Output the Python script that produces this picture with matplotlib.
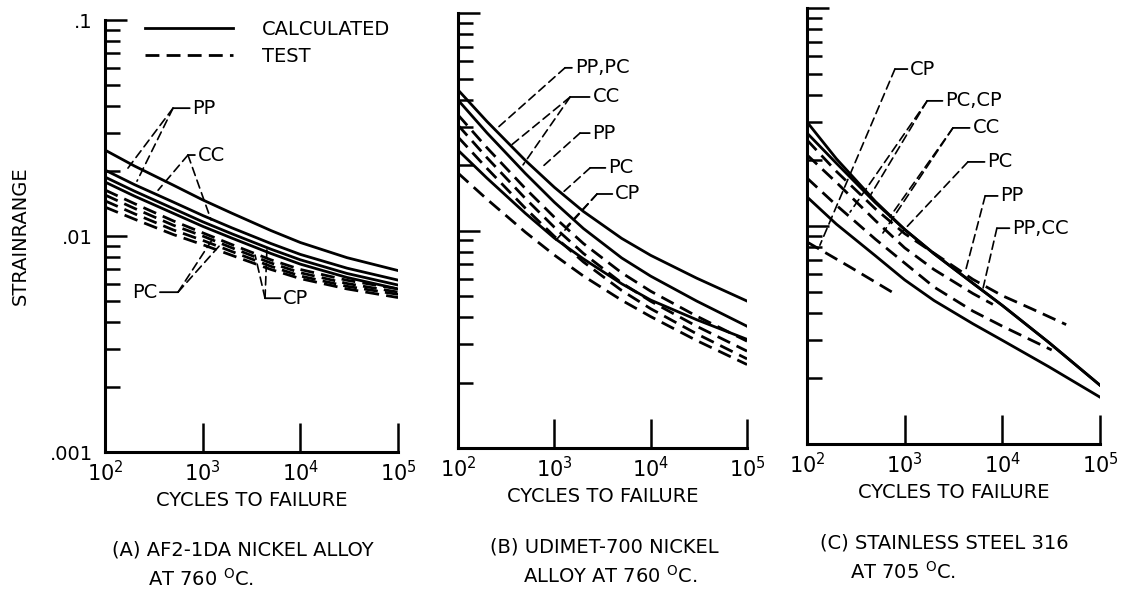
import numpy as np
import matplotlib
matplotlib.use("Agg")
import matplotlib.pyplot as plt
from matplotlib.lines import Line2D
from matplotlib.ticker import LogLocator, NullFormatter, NullLocator

plt.rcParams['font.family'] = ['DejaVu Sans']
plt.rcParams['font.size'] = 14

cycles = [100, 200, 500, 1000, 2000, 5000, 10000, 30000, 100000]

# (A) AF2-1DA nickel alloy, strainrange vs cycles to failure
a_calc = [[0.0250, 0.0211, 0.0172, 0.0147, 0.01274, 0.0106, 0.00933, 0.00794, 0.00692],
          [0.0202, 0.0173, 0.01436, 0.01245, 0.0109, 0.00923, 0.00822, 0.0071, 0.00625],
          [0.01875, 0.01614, 0.0134, 0.01164, 0.01023, 0.00869, 0.00776, 0.00671, 0.00593],
          [0.01778, 0.01531, 0.01274, 0.01109, 0.00977, 0.0083, 0.00741, 0.00643, 0.00569]]
a_test = [[0.01633, 0.01413, 0.01175, 0.01035, 0.00912, 0.00776, 0.0070, 0.00624, 0.00569],
          [0.01549, 0.01343, 0.01122, 0.0100, 0.00881, 0.0075, 0.00676, 0.00603, 0.0055],
          [0.01455, 0.01268, 0.01067, 0.00955, 0.00847, 0.00724, 0.00653, 0.00585, 0.00537],
          [0.01361, 0.01197, 0.01016, 0.00912, 0.00813, 0.0070, 0.00635, 0.00569, 0.00519]]

# (B) UDIMET-700
b_calc = [[0.0443, 0.0317, 0.0210, 0.0158, 0.01224, 0.0092, 0.00769, 0.00604, 0.00474],
          [0.0398, 0.0281, 0.0183, 0.01349, 0.01022, 0.00748, 0.00617, 0.00474, 0.00363],
          [0.0234, 0.0174, 0.0120, 0.00923, 0.00741, 0.00569, 0.00479, 0.00389, 0.00316]]
b_test = [[0.0340, 0.0240, 0.0156, 0.01151, 0.00872, 0.00639, 0.00526, 0.00404, 0.0031],
          [0.0305, 0.0216, 0.01404, 0.01035, 0.00785, 0.00574, 0.00473, 0.00363, 0.00279],
          [0.0269, 0.0193, 0.01266, 0.0094, 0.00717, 0.0053, 0.00437, 0.00335, 0.00257],
          [0.01837, 0.01392, 0.00983, 0.00771, 0.00618, 0.00478, 0.00402, 0.00312, 0.00242]]

# (C) stainless steel 316
c_calc = [[0.0300, 0.02034, 0.01298, 0.00964, 0.00746, 0.00546, 0.00432, 0.00292, 0.00186],
          [0.0267, 0.0194, 0.0128, 0.00964, 0.00746, 0.00546, 0.00432, 0.00292, 0.00186],
          [0.0136, 0.0102, 0.00731, 0.00566, 0.00455, 0.00356, 0.00299, 0.00226, 0.00164]]
c_test_x = [[100, 200, 500, 1000, 2000, 5000, 10000, 20000, 45000],
            [100, 200, 500, 1000, 2000, 5000, 10000, 32000],
            [100, 200, 500, 1000, 2000, 5000, 8000],
            [100, 280, 740]]
c_test_y = [[0.0248, 0.0178, 0.0120, 0.00923, 0.0075, 0.00569, 0.00479, 0.00417, 0.00353],
            [0.0166, 0.01245, 0.00871, 0.00676, 0.00525, 0.00407, 0.00347, 0.0027],
            [0.0212, 0.01585, 0.0106, 0.00794, 0.00631, 0.0049, 0.00437],
            [0.00845, 0.00646, 0.00498]]

captions = [("(A) AF2-1DA NICKEL ALLOY", "AT 760 $^{\\rm O}$C."),
            ("(B) UDIMET-700 NICKEL", "ALLOY AT 760 $^{\\rm O}$C."),
            ("(C) STAINLESS STEEL 316", "AT 705 $^{\\rm O}$C.")]

LW = 2.0
DASH = (0, (5, 2.6))


def setup(ax, ylabels):
    ax.set_xscale('log')
    ax.set_yscale('log')
    ax.set_xlim(1e2, 1e5)
    ax.set_ylim(1e-3, 1e-1)
    for s in ['top', 'right']:
        ax.spines[s].set_visible(False)
    for s in ['left', 'bottom']:
        ax.spines[s].set_linewidth(2.2)
    ax.set_xticks([1e2, 1e3, 1e4, 1e5])
    ax.xaxis.set_minor_locator(NullLocator())
    ax.yaxis.set_minor_locator(LogLocator(base=10, subs=np.arange(2, 10)))
    ax.yaxis.set_minor_formatter(NullFormatter())
    if ylabels:
        ax.set_yticks([1e-3, 1e-2, 1e-1], ['.001', '.01', '.1'])
    else:
        ax.set_yticks([1e-3, 1e-2, 1e-1], ['', '', ''])
    ax.tick_params(which='both', direction='in', width=1.8,
                   top=False, right=False)
    ax.tick_params(axis='x', which='major', length=21, pad=6, labelsize=15)
    ax.tick_params(axis='y', which='major', length=16, pad=9, labelsize=14)
    ax.tick_params(axis='y', which='minor', length=11)
    ax.set_xlabel("CYCLES TO FAILURE", labelpad=4)


def callout(ax, text, corner, targets, dx):
    ha = 'left' if dx > 0 else 'right'
    rel = (0, 0.5) if dx > 0 else (1, 0.5)
    ax.annotate(text, xy=corner, xycoords='axes fraction',
                xytext=(dx, 0), textcoords='offset points',
                ha=ha, va='center', fontsize=14,
                arrowprops=dict(arrowstyle='-', lw=1.3, color='black',
                                shrinkA=0, shrinkB=0, relpos=rel))
    for t in targets:
        ax.annotate('', xy=t, xycoords='axes fraction',
                    xytext=corner, textcoords='axes fraction',
                    arrowprops=dict(arrowstyle='-', lw=1.2, ls=(0, (5, 3)),
                                    color='black', shrinkA=0, shrinkB=0))


fig = plt.figure(figsize=(11.21, 5.98), dpi=100)
axA = fig.add_axes([0.0937, 0.2441, 0.2614, 0.7224])
axB = fig.add_axes([0.4086, 0.2508, 0.2578, 0.7274])
axC = fig.add_axes([0.7199, 0.2575, 0.2614, 0.7291])

setup(axA, True)
setup(axB, False)
setup(axC, False)
axA.set_ylabel("STRAINRANGE", labelpad=14)

for ax, calc, test in [(axA, a_calc, a_test), (axB, b_calc, b_test)]:
    for y in calc:
        ax.plot(cycles, y, color='black', lw=LW)
    for y in test:
        ax.plot(cycles, y, color='black', lw=LW, ls=DASH)
for y in c_calc:
    axC.plot(cycles, y, color='black', lw=LW)
for x, y in zip(c_test_x, c_test_y):
    axC.plot(x, y, color='black', lw=LW, ls=DASH)

handles = [Line2D([], [], color='black', lw=LW),
           Line2D([], [], color='black', lw=LW, ls=DASH)]
axA.legend(handles, ["CALCULATED", "TEST"], loc='upper left',
           bbox_to_anchor=(0.137, 1.0), frameon=False, borderpad=0,
           borderaxespad=0, handlelength=4.5, handletextpad=1.5,
           labelspacing=0.4, fontsize=14)

# leader labels (axes fraction)
callout(axA, "PP", (0.232, 0.796), [(0.068, 0.648), (0.109, 0.627)], 14)
callout(axA, "CC", (0.283, 0.6875), [(0.181, 0.606), (0.362, 0.537)], 7)
callout(axA, "PC", (0.249, 0.370), [(0.365, 0.491), (0.399, 0.484)], -15)
callout(axA, "CP", (0.546, 0.356), [(0.512, 0.456), (0.553, 0.479)], 13)

callout(axB, "PP,PC", (0.370, 0.874), [(0.128, 0.731)], 7)
callout(axB, "CC", (0.388, 0.807), [(0.180, 0.694), (0.225, 0.651)], 16)
callout(axB, "PP", (0.422, 0.724), [(0.291, 0.646)], 9)
callout(axB, "PC", (0.457, 0.644), [(0.360, 0.586)], 13)
callout(axB, "CP", (0.481, 0.584), [(0.377, 0.510), (0.339, 0.478)], 13)

callout(axC, "CP", (0.300, 0.860), [(0.044, 0.456)], 11)
callout(axC, "PC,CP", (0.410, 0.787), [(0.215, 0.569), (0.147, 0.532)], 13)
callout(axC, "CC", (0.498, 0.725), [(0.283, 0.521), (0.259, 0.484)], 14)
callout(axC, "PC", (0.549, 0.647), [(0.314, 0.479)], 14)
callout(axC, "PP", (0.608, 0.569), [(0.539, 0.392)], 11)
callout(axC, "PP,CC", (0.648, 0.495), [(0.601, 0.358)], 11)

# captions
axA.text(0.024, -0.227, captions[0][0], transform=axA.transAxes,
         ha='left', va='center', fontsize=14)
axA.text(0.147, -0.294, captions[0][1], transform=axA.transAxes,
         ha='left', va='center', fontsize=14)
axB.text(0.505, -0.228, captions[1][0], transform=axB.transAxes,
         ha='center', va='center', fontsize=14)
axB.text(0.526, -0.294, captions[1][1], transform=axB.transAxes,
         ha='center', va='center', fontsize=14)
axC.text(0.044, -0.227, captions[2][0], transform=axC.transAxes,
         ha='left', va='center', fontsize=14)
axC.text(0.147, -0.294, captions[2][1], transform=axC.transAxes,
         ha='left', va='center', fontsize=14)

fig.savefig("out.png", dpi=100)
